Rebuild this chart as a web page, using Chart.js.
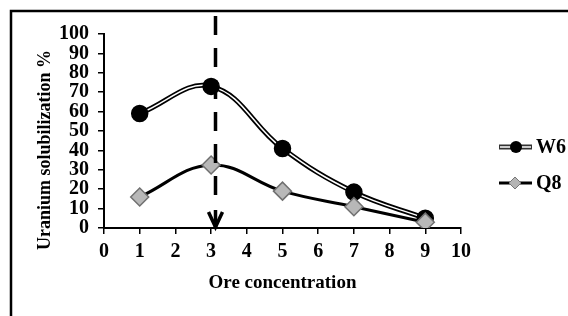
<!DOCTYPE html>
<html>
<head>
<meta charset="utf-8">
<script src="https://cdn.jsdelivr.net/npm/chart.js@4.4.0/dist/chart.umd.min.js"></script>
<style>
  html, body { margin: 0; padding: 0; background: #fff; }
  #wrap { width: 568px; height: 316px; }
</style>
</head>
<body>
<div id="wrap"><canvas id="chart" width="568" height="316"></canvas></div>
<script>
// data
var oreConc = [1, 3, 5, 7, 9];
var w6 = [59, 73, 41, 18.5, 5];
var q8 = [16, 32.5, 19, 11, 3];
var seriesNames = ["W6", "Q8"];
var markerX = 3.1; // dashed arrow position

var FONT = "'Liberation Serif', 'Times New Roman', serif";

function pts(ys) {
    return oreConc.map(function (x, i) { return { x: x, y: ys[i] }; });
}

// frame, titles, dashed arrow, legend
var extras = {
    id: 'extras',
    beforeDraw: function (chart) {
        var c = chart.ctx;
        c.save();
        c.fillStyle = '#fff';
        c.fillRect(0, 0, chart.width, chart.height);
        c.strokeStyle = '#000';
        c.lineWidth = 2.5;
        c.beginPath();
        c.moveTo(11, 318);
        c.lineTo(11, 11);
        c.lineTo(570, 11);
        c.stroke();
        c.restore();
    },
    afterDatasetsDraw: function (chart) {
        var c = chart.ctx;
        var xs = chart.scales.x, ys = chart.scales.y;
        var px = Math.round(xs.getPixelForValue(markerX)) + 0.5;
        c.save();
        // dashed line
        c.strokeStyle = '#000';
        c.lineWidth = 3.5;
        c.setLineDash([19, 13]);
        c.beginPath();
        c.moveTo(px, 16);
        c.lineTo(px, 196);
        c.stroke();
        c.setLineDash([]);
        // arrow head
        var tip = ys.getPixelForValue(0) - 1;
        c.lineWidth = 3.5;
        c.beginPath();
        c.moveTo(px - 7, tip - 15);
        c.lineTo(px, tip);
        c.lineTo(px + 7, tip - 15);
        c.stroke();
        c.beginPath();
        c.moveTo(px, tip - 17);
        c.lineTo(px, tip);
        c.stroke();
        c.restore();
    },
    afterDraw: function (chart) {
        var c = chart.ctx;
        c.save();
        c.fillStyle = '#000';
        c.font = 'bold 19px ' + FONT;
        c.textAlign = 'center';
        c.textBaseline = 'middle';
        c.fillText('Ore concentration', (chart.chartArea.left + chart.chartArea.right) / 2, 283);
        c.translate(45, 150);
        c.rotate(-Math.PI / 2);
        c.font = 'bold 18px ' + FONT;
        c.fillText('Uranium solubilization %', 0, 0);
        c.restore();

        // legend
        c.save();
        var lx = 499, lw = 33;
        // W6
        var y1 = 147;
        c.lineCap = 'butt';
        c.strokeStyle = '#333';
        c.lineWidth = 5;
        c.beginPath(); c.moveTo(lx, y1); c.lineTo(lx + lw, y1); c.stroke();
        c.strokeStyle = '#ccc';
        c.lineWidth = 2;
        c.beginPath(); c.moveTo(lx + 1, y1); c.lineTo(lx + lw - 1, y1); c.stroke();
        c.fillStyle = '#000';
        c.beginPath(); c.arc(lx + 17, y1, 6, 0, Math.PI * 2); c.fill();
        // Q8
        var y2 = 183;
        c.strokeStyle = '#000';
        c.lineWidth = 3;
        c.beginPath(); c.moveTo(lx, y2); c.lineTo(lx + lw, y2); c.stroke();
        c.fillStyle = '#b5b5b5';
        c.strokeStyle = '#777';
        c.lineWidth = 1;
        c.beginPath();
        c.moveTo(lx + 16, y2 - 6); c.lineTo(lx + 22, y2); c.lineTo(lx + 16, y2 + 6); c.lineTo(lx + 10, y2);
        c.closePath(); c.fill(); c.stroke();
        c.fillStyle = '#000';
        c.font = 'bold 20px ' + FONT;
        c.textAlign = 'left';
        c.textBaseline = 'middle';
        c.fillText(seriesNames[0], lx + lw + 4, y1 + 1);
        c.fillText(seriesNames[1], lx + lw + 4, y2 + 1);
        c.restore();
    }
};

var ctx = document.getElementById('chart').getContext('2d');
var chart = new Chart(ctx, {
    type: 'line',
    data: {
        datasets: [
            {
                label: seriesNames[1],
                data: pts(q8),
                borderColor: '#000',
                borderWidth: 3,
                tension: 0.4,
                pointStyle: 'rectRot',
                pointRadius: 9,
                pointBackgroundColor: '#b8b8b8',
                pointBorderColor: '#707070',
                pointBorderWidth: 1.5,
                order: 0
            },
            {
                label: seriesNames[0],
                data: pts(w6),
                borderColor: '#fff',
                borderWidth: 1.5,
                tension: 0.4,
                pointStyle: 'circle',
                pointRadius: 8,
                pointBackgroundColor: '#000',
                pointBorderColor: '#000',
                order: 1
            },
            {
                label: seriesNames[0] + ' outline',
                data: pts(w6),
                borderColor: '#000',
                borderWidth: 5,
                tension: 0.4,
                pointRadius: 0,
                order: 2
            }
        ]
    },
    options: {
        responsive: false,
        animation: false,
        layout: { padding: { left: 0, right: 107, top: 34, bottom: 0 } },
        plugins: { legend: { display: false }, tooltip: { enabled: false } },
        scales: {
            x: {
                type: 'linear',
                min: 0, max: 10,
                afterFit: function (s) { s.height = 88; },
                ticks: { stepSize: 1, autoSkip: false, maxRotation: 0, color: '#000', padding: 6, font: { family: FONT, size: 20, weight: 'bold' } },
                grid: { drawOnChartArea: false, drawTicks: true, tickLength: 6, color: '#000', lineWidth: 1.5 },
                border: { display: true, color: '#000', width: 2 }
            },
            y: {
                min: 0, max: 100,
                afterFit: function (s) { s.width = 104; },
                ticks: { stepSize: 10, autoSkip: false, color: '#000', padding: 9, font: { family: FONT, size: 20, weight: 'bold' } },
                grid: { drawOnChartArea: false, drawTicks: true, tickLength: 6, color: '#000', lineWidth: 1.5 },
                border: { display: true, color: '#000', width: 2 }
            }
        }
    },
    plugins: [extras]
});
</script>
</body>
</html>
